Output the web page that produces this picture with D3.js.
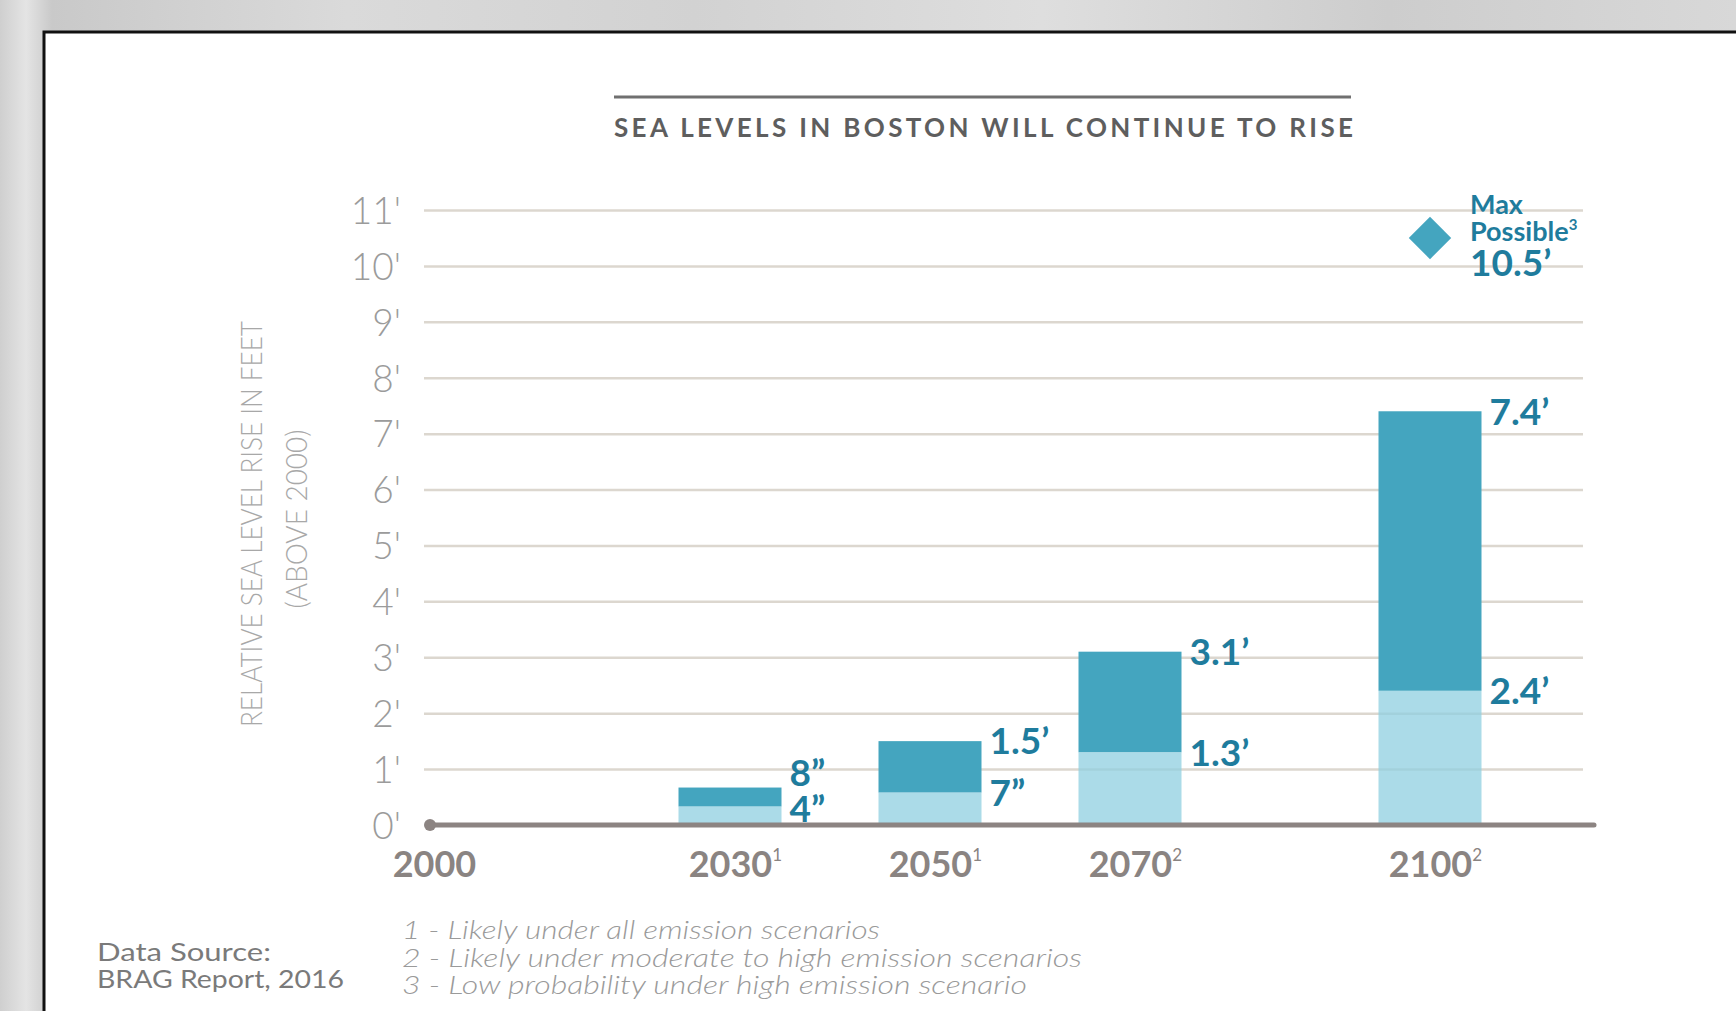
<!DOCTYPE html>
<html>
<head>
<meta charset="utf-8">
<script src="https://cdn.jsdelivr.net/npm/d3@7"></script>
<style>
  html, body { margin: 0; padding: 0; background: #d4d4d4; }
  svg { display: block; }
</style>
</head>
<body>
<svg id="chart" width="1736" height="1011"></svg>
<script>
// ---------------- DATA ----------------
const years = [2030, 2050, 2070, 2100];
const yearNotes = ["1", "1", "2", "2"];
const lowFeet = [0.33, 0.58, 1.3, 2.4];
const highFeet = [0.67, 1.5, 3.1, 7.4];
const lowLabels = ["4\u201D", "7\u201D", "1.3\u2019", "2.4\u2019"];
const highLabels = ["8\u201D", "1.5\u2019", "3.1\u2019", "7.4\u2019"];
const axisYears = [2000, 2030, 2050, 2070, 2100];
const axisNotes = ["", "1", "1", "2", "2"];
const yTickValues = [0, 1, 2, 3, 4, 5, 6, 7, 8, 9, 10, 11];
const maxYear = 2100;
const maxFeet = 10.5;
const maxLabelLines = ["Max", "Possible"];
const maxValueLabel = "10.5\u2019";
const titleText = "SEA LEVELS IN BOSTON WILL CONTINUE TO RISE";
const yTitle1 = "RELATIVE SEA LEVEL RISE IN FEET";
const yTitle2 = "(ABOVE 2000)";
const sourceLines = ["Data Source:", "BRAG Report, 2016"];
const footnotes = [
  "1 - Likely under all emission scenarios",
  "2 - Likely under moderate to high emission scenarios",
  "3 - Low probability under high emission scenario"
];

// ---------------- STYLE ----------------
const FONT = "Lato, 'Open Sans', 'DejaVu Sans', sans-serif";
const TEAL_DARK = "#44a5bf";
const TEAL_LIGHT = "#8fcfe0";
const TEAL_TEXT = "#1f7c9d";
const GRID = "#dcd7cf";
const BASE = "#8c8482";

const svg = d3.select("#chart");

// background (blurred photo-ish gray)
const defs = svg.append("defs");
const bg = defs.append("linearGradient").attr("id", "bg").attr("x1", 0).attr("x2", 1).attr("y1", 0).attr("y2", 0);
[["0%", "#cfcfcf"], ["1.5%", "#e4e4e4"], ["3%", "#c9c9c9"], ["20%", "#dadada"], ["40%", "#d2d2d2"],
 ["60%", "#dedede"], ["80%", "#cdcdcd"], ["100%", "#d8d8d8"]].forEach(([o, c]) =>
  bg.append("stop").attr("offset", o).attr("stop-color", c));
svg.append("rect").attr("width", 1736).attr("height", 1011).attr("fill", "url(#bg)");

// white panel
svg.append("rect")
  .attr("x", 44).attr("y", 32).attr("width", 1736).attr("height", 1011)
  .attr("fill", "#ffffff").attr("stroke", "#111").attr("stroke-width", 3);

// ---------------- SCALES ----------------
const x = d3.scaleLinear().domain([2000, 2100]).range([430, 1430]);
const y = d3.scaleLinear().domain([0, 11]).range([825, 210]);
const gridLeft = 424, gridRight = 1583;
const barW = 103;

// title
svg.append("line").attr("x1", 614).attr("x2", 1351).attr("y1", 97).attr("y2", 97)
  .attr("stroke", "#707070").attr("stroke-width", 3);
svg.append("text").attr("x", 614).attr("y", 137)
  .attr("font-family", FONT).attr("font-weight", 700).attr("font-size", 26)
  .attr("fill", "#5e5e5e").attr("textLength", 739).attr("lengthAdjust", "spacing")
  .text(titleText);

// y axis with gridlines
const yAxis = svg.append("g").attr("transform", `translate(${gridLeft},0)`)
  .call(d3.axisLeft(y).tickValues(yTickValues).tickSize(-(gridRight - gridLeft)).tickPadding(23)
    .tickFormat(d => d + "'"));
yAxis.select(".domain").remove();
yAxis.selectAll(".tick line").attr("stroke", GRID).attr("stroke-width", 2.5)
  .attr("opacity", d => d === 0 ? 0 : 1);
yAxis.selectAll(".tick text").attr("font-family", FONT).attr("font-weight", 300)
  .attr("font-size", 37).attr("fill", "#9b9b9b").attr("dy", "0.36em");

// y axis title
const yTitleG = svg.append("g").attr("font-family", FONT).attr("font-weight", 300).attr("fill", "#a8a8a8");
yTitleG.append("text").attr("transform", "translate(262,524) rotate(-90)")
  .attr("text-anchor", "middle").attr("font-size", 30)
  .attr("textLength", 406).attr("lengthAdjust", "spacingAndGlyphs").text(yTitle1);
yTitleG.append("text").attr("transform", "translate(307,519) rotate(-90)")
  .attr("text-anchor", "middle").attr("font-size", 30)
  .attr("textLength", 179).attr("lengthAdjust", "spacingAndGlyphs").text(yTitle2);

// bars
const data = years.map((yr, i) => ({ yr, low: lowFeet[i], high: highFeet[i], lowL: lowLabels[i], highL: highLabels[i] }));
const bars = svg.append("g");
bars.selectAll("rect.high").data(data).join("rect").attr("class", "high")
  .attr("x", d => x(d.yr) - barW / 2).attr("width", barW)
  .attr("y", d => y(d.high)).attr("height", d => y(d.low) - y(d.high))
  .attr("fill", TEAL_DARK);
bars.selectAll("rect.low").data(data).join("rect").attr("class", "low")
  .attr("x", d => x(d.yr) - barW / 2).attr("width", barW)
  .attr("y", d => y(d.low)).attr("height", d => y(0) - y(d.low))
  .attr("fill", TEAL_LIGHT).attr("fill-opacity", 0.75);

// value labels
const labG = svg.append("g").attr("font-family", FONT).attr("font-weight", 700)
  .attr("font-size", 37).attr("fill", TEAL_TEXT);
data.forEach(d => {
  const lx = x(d.yr) + barW / 2 + 8;
  let yLow = y(d.low), yHigh = y(d.high);
  if (yLow - yHigh < 34) { yHigh = yLow - 34; yLow = yLow + 2; }
  labG.append("text").attr("x", lx).attr("y", yHigh).attr("dy", "0.36em").text(d.highL);
  labG.append("text").attr("x", lx).attr("y", yLow).attr("dy", "0.36em").text(d.lowL);
});

// baseline + dot
svg.append("line").attr("x1", x(2000)).attr("x2", 1594).attr("y1", y(0)).attr("y2", y(0))
  .attr("stroke", BASE).attr("stroke-width", 5).attr("stroke-linecap", "round");
svg.append("circle").attr("cx", x(2000)).attr("cy", y(0)).attr("r", 6).attr("fill", BASE);

// x axis labels
const xAxis = svg.append("g").attr("transform", `translate(0,${y(0)})`)
  .call(d3.axisBottom(x).tickValues(axisYears).tickSize(0).tickPadding(0).tickFormat(d3.format("d")));
xAxis.select(".domain").remove();
xAxis.selectAll(".tick text")
  .attr("font-family", FONT).attr("font-weight", 700).attr("font-size", 36)
  .attr("fill", "#8a8482").attr("dy", 0).attr("y", 52)
  .each(function (d, i) {
    const t = d3.select(this);
    const w = this.getComputedTextLength();
    t.attr("text-anchor", "start").attr("x", -w / 2 + (i === 0 ? 4 : 0));
    if (axisNotes[i]) {
      t.append("tspan").attr("font-size", 17).attr("dy", -16).attr("font-weight", 400).text(axisNotes[i]);
    }
  });

// max possible diamond + labels
const mx = x(maxYear), my = y(maxFeet);
svg.append("path").attr("transform", `translate(${mx},${my}) rotate(45)`)
  .attr("d", "M-15,-15H15V15H-15Z").attr("fill", TEAL_DARK);
const maxG = svg.append("g").attr("font-family", FONT).attr("font-weight", 700).attr("fill", TEAL_TEXT);
maxG.append("text").attr("x", mx + 40).attr("y", my - 24).attr("font-size", 27).text(maxLabelLines[0]);
const pos = maxG.append("text").attr("x", mx + 40).attr("y", my + 3).attr("font-size", 27).text(maxLabelLines[1]);
pos.append("tspan").attr("font-size", 15).attr("dy", -11).text("3");
maxG.append("text").attr("x", mx + 40).attr("y", my + 38).attr("font-size", 37).text(maxValueLabel);

// source
const srcG = svg.append("g").attr("font-family", FONT).attr("font-weight", 400).attr("font-size", 25).attr("fill", "#7a7a7a");
srcG.append("text").attr("x", 97).attr("y", 961).attr("textLength", 174).attr("lengthAdjust", "spacingAndGlyphs").text(sourceLines[0]);
srcG.append("text").attr("x", 97).attr("y", 988).attr("textLength", 247).attr("lengthAdjust", "spacingAndGlyphs").text(sourceLines[1]);

// footnotes
const fnLens = [478, 680, 625];
const fnG = svg.append("g").attr("font-family", FONT).attr("font-weight", 300).attr("font-style", "italic")
  .attr("font-size", 25).attr("fill", "#9a9a9a");
footnotes.forEach((f, i) => {
  fnG.append("text").attr("x", 402).attr("y", 939 + i * 27.5)
    .attr("textLength", fnLens[i]).attr("lengthAdjust", "spacingAndGlyphs").text(f);
});
</script>
</body>
</html>
